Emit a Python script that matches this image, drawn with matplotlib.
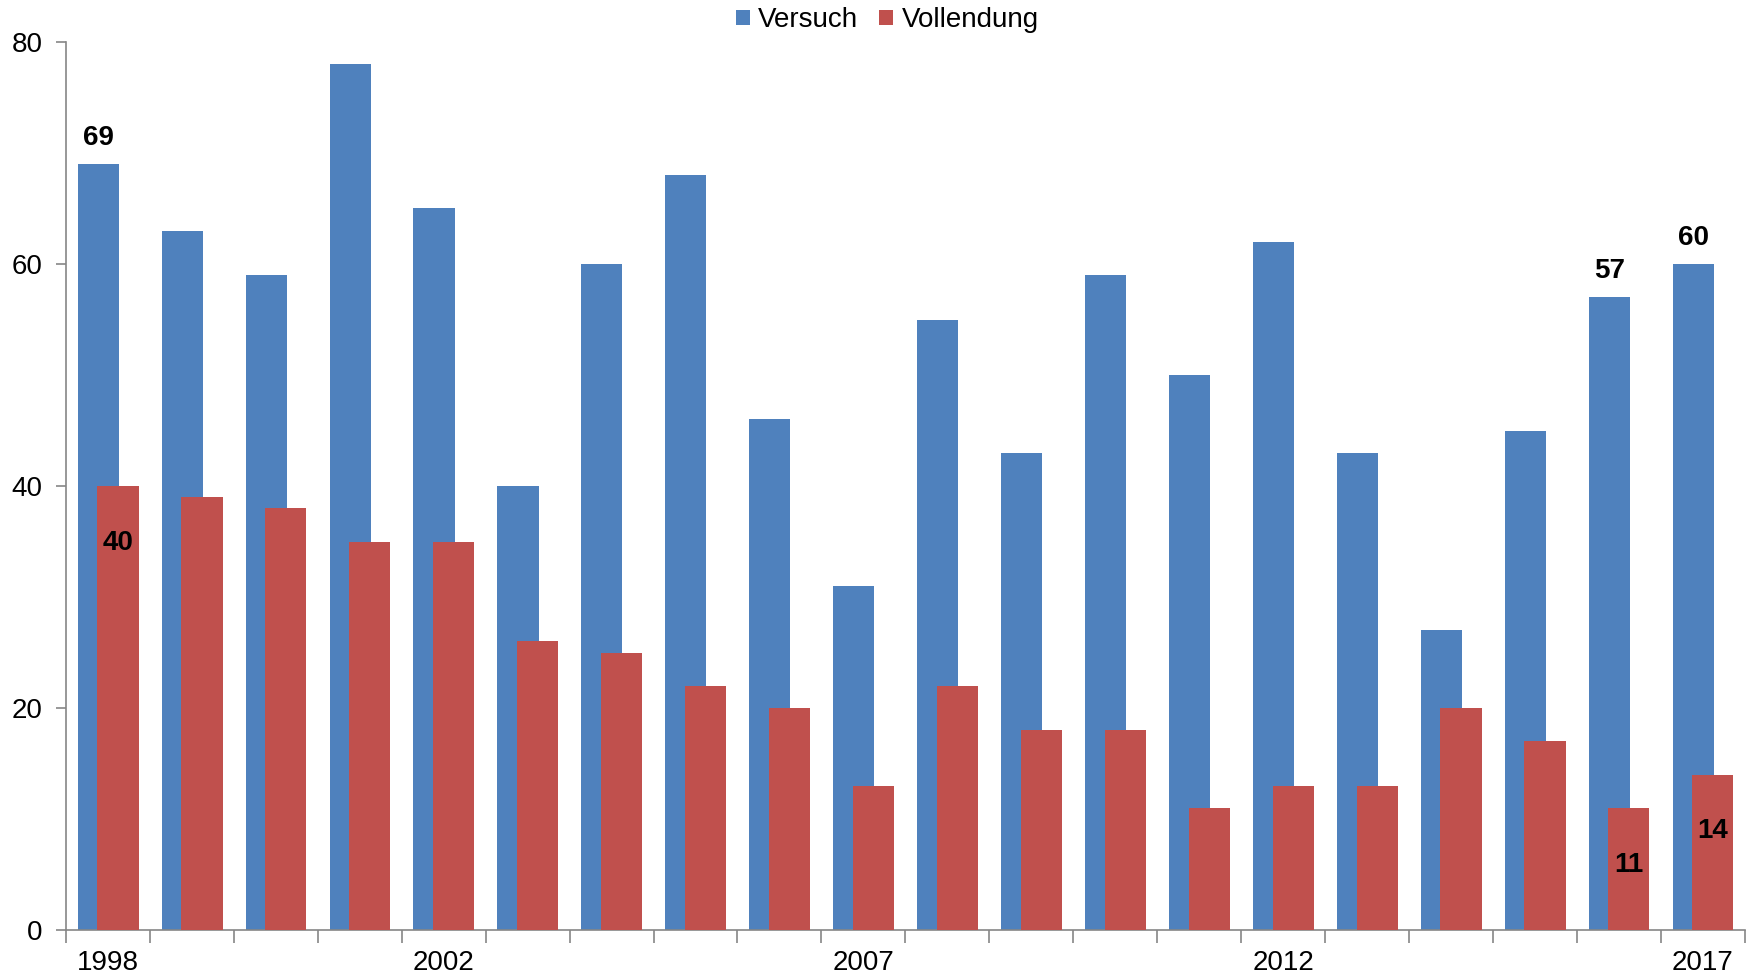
import numpy as np
import matplotlib.pyplot as plt
from matplotlib.ticker import FixedLocator

plt.rcParams['font.family'] = ['Liberation Sans', 'DejaVu Sans']

years = list(range(1998, 2018))
versuch = [69, 63, 59, 78, 65, 40, 60, 68, 46, 31, 55, 43, 59, 50, 62, 43, 27, 45, 57, 60]
vollendung = [40, 39, 38, 35, 35, 26, 25, 22, 20, 13, 22, 18, 18, 11, 13, 13, 20, 17, 11, 14]
shown_years = [1998, 2002, 2007, 2012, 2017]
label_versuch = [0, 18, 19]      # indices with value labels
label_vollendung = [0, 18, 19]

BLUE = '#4F81BD'
RED = '#C0504D'
AXC = '#868686'
FS = 20

fig = plt.figure(figsize=(17.5, 9.76), dpi=100)
ax = fig.add_axes([0.0377, 0.047, 0.9593, 0.910])

x = np.arange(len(years))
w = 0.49
b1 = ax.bar(x - 0.115, versuch, w, color=BLUE, label='Versuch', zorder=2)
b2 = ax.bar(x + 0.12, vollendung, w, color=RED, label='Vollendung', zorder=3)

for i in label_versuch:
    ax.text(x[i] - 0.115, versuch[i] + 1.2, str(versuch[i]), ha='center', va='bottom',
            fontsize=FS, fontweight='bold', zorder=5)
for i in label_vollendung:
    ax.text(x[i] + 0.12, vollendung[i] - 5.1, str(vollendung[i]), ha='center', va='center',
            fontsize=FS, fontweight='bold', zorder=5)

ax.set_xlim(-0.5, len(years) - 0.5)
ax.set_ylim(0, 80)
ax.set_yticks([0, 20, 40, 60, 80])

ax.set_xticks([years.index(y) for y in shown_years])
ax.set_xticklabels([str(y) for y in shown_years])
ax.xaxis.set_minor_locator(FixedLocator(np.arange(-0.5, len(years), 1.0)))
ax.tick_params(axis='x', which='major', length=0, pad=14, labelsize=FS)
ax.tick_params(axis='x', which='minor', length=9, width=1.2, color=AXC, direction='out')
ax.tick_params(axis='y', length=7, width=1.2, color=AXC, pad=10, labelsize=FS)

for s in ['top', 'right']:
    ax.spines[s].set_visible(False)
for s in ['left', 'bottom']:
    ax.spines[s].set_color(AXC)
    ax.spines[s].set_linewidth(1.2)

leg = fig.legend(handles=[b1, b2], loc='upper center', bbox_to_anchor=(0.507, 1.018),
                 ncol=2, frameon=False, fontsize=FS, handlelength=0.5, handleheight=0.5,
                 handletextpad=0.3, columnspacing=0.75)

fig.savefig('out.png', dpi=100)
